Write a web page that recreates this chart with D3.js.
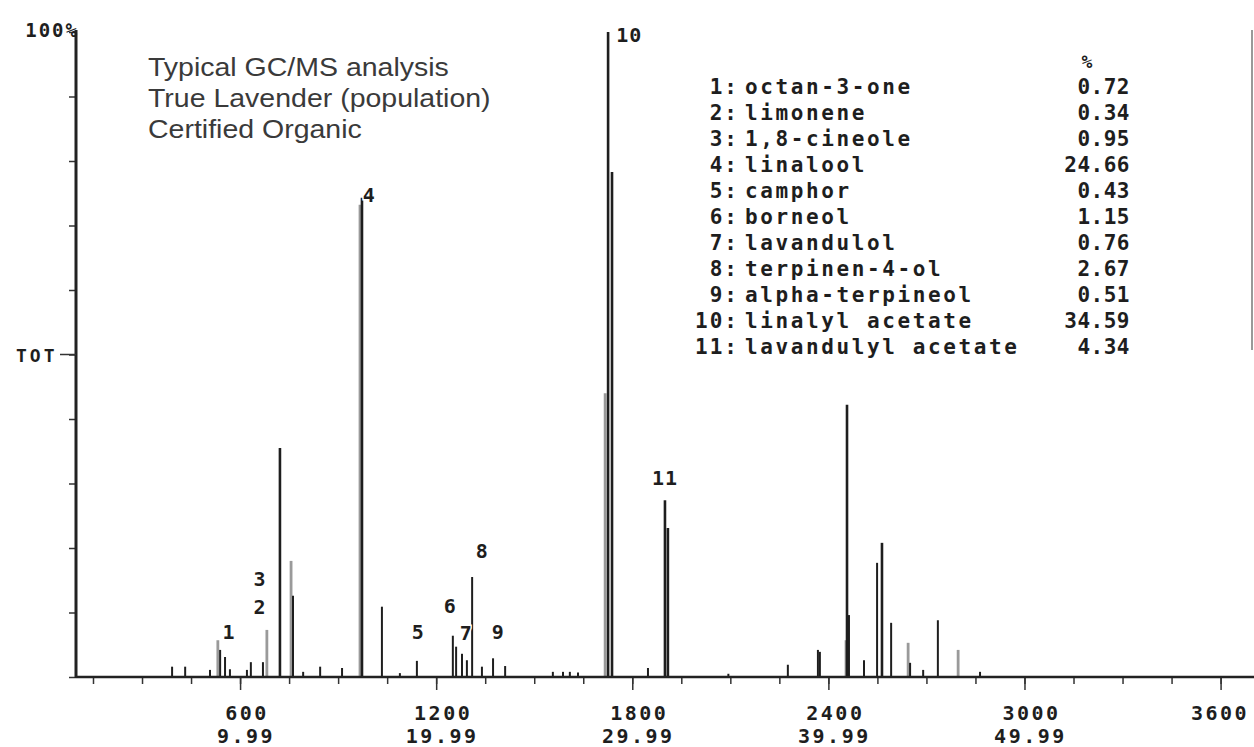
<!DOCTYPE html>
<html>
<head>
<meta charset='utf-8'>
<style>
    body { margin: 0; background: #fff; }
    svg { display: block; }
    .mono { font-family: 'DejaVu Sans Mono', monospace; font-weight: bold; fill: #1e1e1e; }
    .note { font-family: 'Liberation Sans', Arial, sans-serif; fill: #3a3a3a; }
</style>
</head>
<body>
<svg width="1254" height="747"></svg>
<script src="https://d3js.org/d3.v7.min.js"></script>
<script>
// peaks: scan number, % of full scale, tone (d = dark, l = light/grey)
var peakScan = [392, 432, 508, 532, 539, 554, 569, 621, 633, 670, 682, 722, 756, 762, 793, 845, 912,
    967, 973, 1034, 1089, 1141, 1251, 1261, 1279, 1294, 1310, 1340, 1374, 1411, 1557, 1588, 1609, 1634,
    1717, 1726, 1738, 1848, 1900, 1909, 2094, 2276, 2368, 2374, 2454, 2457, 2463, 2509, 2549, 2564, 2592,
    2644, 2650, 2690, 2735, 2797, 2864];
var peakPct = [1.6, 1.6, 1.1, 5.7, 4.2, 3.1, 1.2, 1.1, 2.3, 2.3, 7.3, 35.5, 18.0, 12.6, 0.8, 1.6, 1.4,
    73.2, 74.3, 10.9, 0.6, 2.5, 6.4, 4.7, 3.6, 2.6, 15.5, 1.6, 2.9, 1.7, 0.8, 0.8, 0.8, 0.7,
    44.0, 100, 78.3, 1.4, 27.4, 23.1, 0.5, 1.9, 4.2, 3.9, 5.7, 42.2, 9.6, 2.6, 17.7, 20.8, 8.4,
    5.3, 2.2, 1.1, 8.8, 4.2, 0.8];
var peakTone = ['d', 'd', 'd', 'l', 'd', 'd', 'd', 'd', 'd', 'd', 'l', 'd', 'l', 'd', 'd', 'd', 'd',
    'l', 'd', 'd', 'd', 'd', 'd', 'd', 'd', 'd', 'd', 'd', 'd', 'd', 'd', 'd', 'd', 'd',
    'l', 'd', 'd', 'd', 'd', 'd', 'd', 'd', 'd', 'd', 'l', 'd', 'd', 'd', 'd', 'd', 'd',
    'l', 'd', 'd', 'd', 'l', 'd'];

// peak number labels (scan position, % level of the label baseline)
var labelText = ['1', '2', '3', '4', '5', '6', '7', '8', '9', '10', '11'];
var labelScan = [566, 661, 661, 995, 1145, 1243, 1292, 1341, 1390, 1791, 1900];
var labelPct = [5.9, 9.8, 14.1, 73.6, 5.9, 9.9, 5.7, 18.4, 5.9, 98.4, 29.8];

// legend table
var compNo = ['1:', '2:', '3:', '4:', '5:', '6:', '7:', '8:', '9:', '10:', '11:'];
var compName = ['octan-3-one', 'limonene', '1,8-cineole', 'linalool', 'camphor', 'borneol',
    'lavandulol', 'terpinen-4-ol', 'alpha-terpineol', 'linalyl acetate', 'lavandulyl acetate'];
var compPct = ['0.72', '0.34', '0.95', '24.66', '0.43', '1.15', '0.76', '2.67', '0.51', '34.59', '4.34'];

// axis ticks
var scanTicks = [600, 1200, 1800, 2400, 3000, 3600];
var timeLabels = ['9.99', '19.99', '29.99', '39.99', '49.99', ''];
var minorTicks = d3.range(150, 3700, 150);
var titleLines = ['Typical GC/MS analysis', 'True Lavender (population)', 'Certified Organic'];

var svg = d3.select('svg');

var x = d3.scaleLinear().domain([98, 3690]).range([76, 1250]);
var y = d3.scaleLinear().domain([0, 100]).range([677, 32]);

// right frame edge
svg.append('line')
    .attr('x1', 1252).attr('x2', 1252).attr('y1', 30).attr('y2', 350)
    .attr('stroke', '#777').attr('stroke-width', 1.5);

// x axis: minor ticks, then major ticks
var xMinor = svg.append('g').attr('transform', 'translate(0,' + y(0) + ')')
    .call(d3.axisBottom(x).tickValues(minorTicks).tickSize(7).tickFormat(''));
var xMajor = svg.append('g').attr('transform', 'translate(0,' + y(0) + ')')
    .call(d3.axisBottom(x).tickValues(scanTicks).tickSize(13).tickFormat(''));
[xMinor, xMajor].forEach(function(g) {
    g.select('.domain').remove();
    g.selectAll('line').attr('stroke', '#333').attr('stroke-width', 1.5);
});

// y axis ticks every 10 %
var yAx = svg.append('g').attr('transform', 'translate(' + x(98) + ',0)')
    .call(d3.axisLeft(y).tickValues(d3.range(0, 101, 10)).tickSize(7).tickFormat(''));
yAx.select('.domain').remove();
yAx.selectAll('line').attr('stroke', '#333').attr('stroke-width', 1.5);

// tick labels, two rows (last one kept inside the frame)
svg.selectAll('.scanlab').data(scanTicks).enter().append('text')
    .attr('class', 'mono scanlab')
    .attr('x', function(d) { return Math.min(x(d) + 7, 1220); })
    .attr('y', 720)
    .attr('text-anchor', 'middle')
    .style('font-size', '20px').style('letter-spacing', '2.5px')
    .text(function(d) { return d; });
svg.selectAll('.timelab').data(timeLabels).enter().append('text')
    .attr('class', 'mono timelab')
    .attr('x', function(d, i) { return x(scanTicks[i]) + 6; })
    .attr('y', 743)
    .attr('text-anchor', 'middle')
    .style('font-size', '20px').style('letter-spacing', '2.5px')
    .text(function(d) { return d; });

// peaks
var idx = d3.range(peakScan.length).sort(function(a, b) {
    return (peakTone[a] == 'l' ? 0 : 1) - (peakTone[b] == 'l' ? 0 : 1);
});
svg.append('g').selectAll('line').data(idx).enter().append('line')
    .attr('x1', function(i) { return x(peakScan[i]); })
    .attr('x2', function(i) { return x(peakScan[i]); })
    .attr('y1', y(0))
    .attr('y2', function(i) { return y(peakPct[i]); })
    .attr('stroke', function(i) { return peakTone[i] == 'l' ? '#9a9a9a' : '#1e1e1e'; })
    .attr('stroke-width', function(i) { return peakTone[i] == 'l' ? 2.8 : (peakPct[i] > 20 ? 2.6 : 2); });

// axis lines
svg.append('line')
    .attr('x1', x(98)).attr('x2', 1254).attr('y1', y(0)).attr('y2', y(0))
    .attr('stroke', '#222').attr('stroke-width', 2.5);
svg.append('line')
    .attr('x1', x(98)).attr('x2', x(98)).attr('y1', 30).attr('y2', y(0) + 1)
    .attr('stroke', '#222').attr('stroke-width', 3);

// peak labels
svg.selectAll('.plab').data(labelText).enter().append('text')
    .attr('class', 'mono plab')
    .attr('x', function(d, i) { return x(labelScan[i]); })
    .attr('y', function(d, i) { return y(labelPct[i]); })
    .attr('text-anchor', 'middle')
    .style('font-size', '20px').style('letter-spacing', '1px')
    .style('paint-order', 'stroke').style('stroke', '#fff').style('stroke-width', '3px')
    .text(function(d) { return d; });

// y axis labels
svg.append('text').attr('class', 'mono')
    .attr('x', 79).attr('y', 37).attr('text-anchor', 'end')
    .style('font-size', '19px').style('letter-spacing', '2px')
    .text('100%');
svg.append('text').attr('class', 'mono')
    .attr('x', 16).attr('y', y(50) + 7)
    .style('font-size', '18px').style('letter-spacing', '3px')
    .text('TOT');
svg.append('line')
    .attr('x1', 60).attr('x2', x(98)).attr('y1', y(50)).attr('y2', y(50))
    .attr('stroke', '#333').attr('stroke-width', 1.5);

// title block
svg.selectAll('.note').data(titleLines).enter().append('text')
    .attr('class', 'note')
    .attr('transform', function(d, i) { return 'translate(148,' + (76 + i * 31) + ') scale(1.14,1)'; })
    .style('font-size', '25px')
    .text(function(d) { return d; });

// legend table
var leg = svg.append('g');
leg.append('text').attr('class', 'mono')
    .attr('x', 1087).attr('y', 68).attr('text-anchor', 'middle')
    .style('font-size', '18px')
    .text('%');
leg.selectAll('.cno').data(compNo).enter().append('text')
    .attr('class', 'mono cno')
    .attr('x', 739).attr('y', function(d, i) { return 94 + i * 26; })
    .attr('text-anchor', 'end')
    .style('font-size', '21px').style('letter-spacing', '2px')
    .text(function(d) { return d; });
leg.selectAll('.cname').data(compName).enter().append('text')
    .attr('class', 'mono cname')
    .attr('x', 745).attr('y', function(d, i) { return 94 + i * 26; })
    .style('font-size', '21px').style('letter-spacing', '2.6px')
    .text(function(d) { return d; });
leg.selectAll('.cpct').data(compPct).enter().append('text')
    .attr('class', 'mono cpct')
    .attr('x', 1130).attr('y', function(d, i) { return 94 + i * 26; })
    .attr('text-anchor', 'end')
    .style('font-size', '21px').style('letter-spacing', '0.5px')
    .text(function(d) { return d; });
</script>
</body>
</html>
